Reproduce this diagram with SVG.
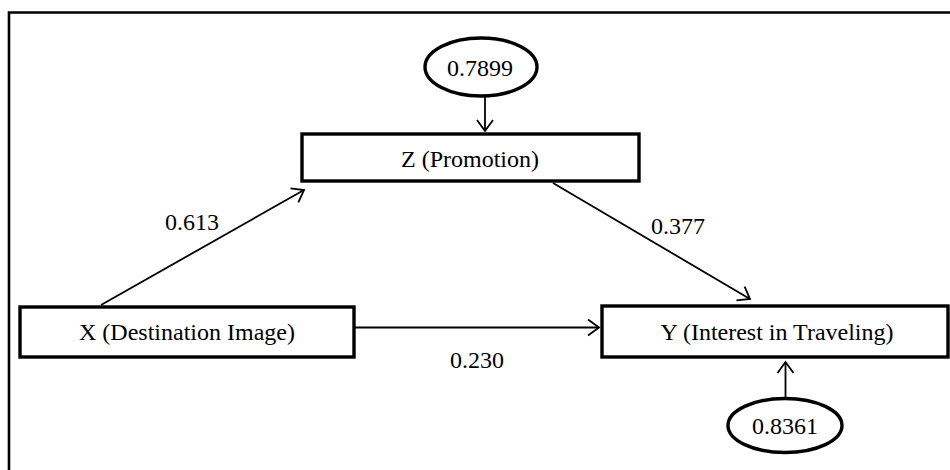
<svg xmlns="http://www.w3.org/2000/svg" width="950" height="470" viewBox="0 0 950 470">
<style>
.box{fill:#fff;stroke:#000;stroke-width:3.4}
.ell{fill:#fff;stroke:#000;stroke-width:3.4}
.frame{fill:none;stroke:#000;stroke-width:2.6}
.conn{fill:none;stroke:#000;stroke-width:1.8;marker-end:url(#arr)}
text{font-family:"Liberation Serif","Times New Roman",serif;font-size:24px;fill:#000;text-anchor:middle}
</style>
<defs>
<marker id="arr" markerUnits="userSpaceOnUse" markerWidth="16" markerHeight="20" viewBox="-14 -10 16 20" refX="0" refY="0" orient="auto">
<path d="M-11,-8 L0,0 L-11,8" fill="none" stroke="#000" stroke-width="1.8"/>
</marker>
</defs>
<rect width="950" height="470" fill="#fff"/>
<polyline class="frame" points="9,470 9,12.5 950,12.5"/>
<g id="connectors">
<line class="conn" x1="101" y1="305" x2="304" y2="190"/>
<line class="conn" x1="553" y1="183" x2="750" y2="299"/>
<line class="conn" x1="355" y1="327.5" x2="599" y2="327.5"/>
<line class="conn" x1="485" y1="97" x2="485" y2="131"/>
<line class="conn" x1="785.5" y1="398" x2="785.5" y2="362"/>
<text x="192" y="230">0.613</text>
<text x="678" y="234">0.377</text>
<text x="477" y="368">0.230</text>
</g>
<g id="Z">
<rect class="box" x="302" y="134" width="337" height="47"/>
<text x="470" y="167">Z (Promotion)</text>
</g>
<g id="X">
<rect class="box" x="20" y="307" width="334" height="50"/>
<text x="187" y="340">X (Destination Image)</text>
</g>
<g id="Y">
<rect class="box" x="602" y="306" width="346" height="51"/>
<text x="777" y="340">Y (Interest in Traveling)</text>
</g>
<g id="eZ">
<ellipse class="ell" cx="481" cy="67" rx="56" ry="29"/>
<text x="480" y="76">0.7899</text>
</g>
<g id="eY">
<ellipse class="ell" cx="785" cy="425.5" rx="57" ry="27"/>
<text x="785" y="434">0.8361</text>
</g>
</svg>
